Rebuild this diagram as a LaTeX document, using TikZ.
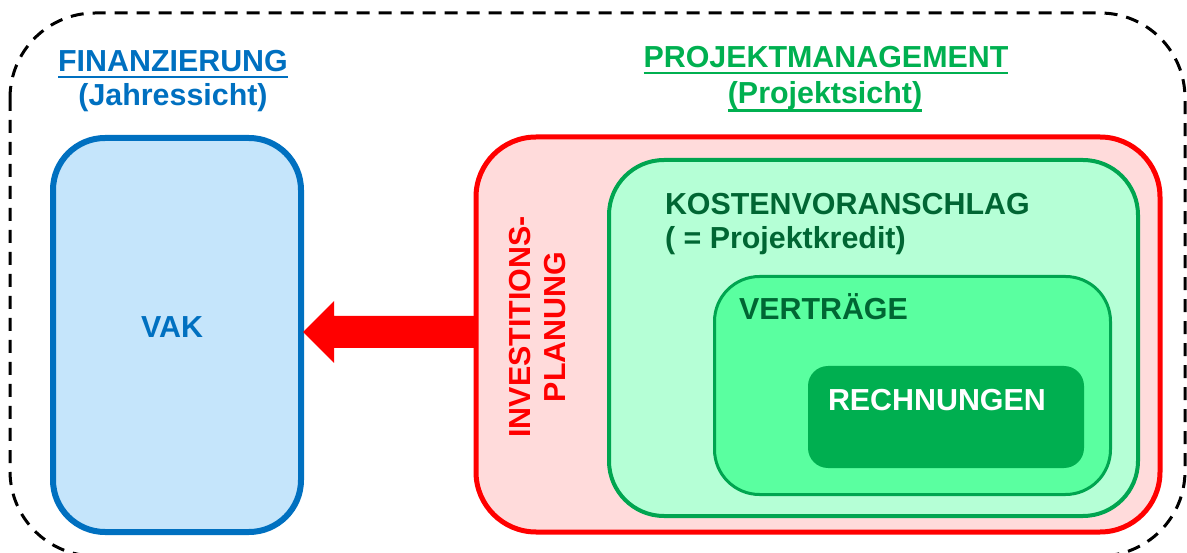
\documentclass[tikz,border=0pt]{standalone}
\usepackage{fontspec}
\setmainfont{Liberation Sans}
\usetikzlibrary{calc}
\definecolor{finblue}{HTML}{0070C0}
\definecolor{finfill}{HTML}{C5E5FB}
\definecolor{invred}{HTML}{FF0000}
\definecolor{invfill}{HTML}{FFDBDB}
\definecolor{pmgreen}{HTML}{00B050}
\definecolor{kvline}{HTML}{00A550}
\definecolor{kvfill}{HTML}{B5FFD6}
\definecolor{vtfill}{HTML}{5AFFA0}
\definecolor{refill}{HTML}{00AF50}
\definecolor{darkgreen}{HTML}{006633}
\tikzset{
  txt/.style={inner sep=0pt, outer sep=0pt, font=\fontsize{30.4}{35}\selectfont\bfseries},
  box/.style={rounded corners=#1, inner sep=0pt, outer sep=0pt},
}
\begin{document}
\begin{tikzpicture}[x=1pt,y=-1pt]
\useasboundingbox (0,0) rectangle (1187,553);
\clip (0,0) rectangle (1187,553);
% outer dashed frame
\draw[line width=3pt, dash pattern=on 13pt off 9pt, rounded corners=85pt] (10,13) rectangle (1185,556);
% boxes
\node[box=52pt, draw=finblue, fill=finfill, line width=6pt, minimum width=248pt, minimum height=394pt] (vak) at (177,335) {};
\node[box=60pt, draw=invred, fill=invfill, line width=5pt, minimum width=684pt, minimum height=395pt] (inv) at (818,334.5) {};
\node[box=55pt, draw=kvline, fill=kvfill, line width=4pt, minimum width=529pt, minimum height=356pt] (kv) at (873.5,338) {};
\node[box=45pt, draw=kvline, fill=vtfill, line width=3pt, minimum width=396pt, minimum height=218pt] (vt) at (912.5,385.5) {};
\node[box=20pt, fill=refill, minimum width=276pt, minimum height=102pt] (re) at (946,417) {};
% arrow
\coordinate (tip) at (vak.east |- 0,332);
\coordinate (tail) at (inv.west |- tip);
\fill[invred] ($(tip)+(2,0)$) -- ($(tip)+(33,-31)$) -- ($(tip)+(33,-16)$) -- ($(tail)+(0,-16)$)
  -- ($(tail)+(0,16)$) -- ($(tip)+(33,16)$) -- ($(tip)+(33,31)$) -- cycle;
% titles
\node[txt, text=finblue, anchor=base] (fin) at (173,72) {FINANZIERUNG};
\draw[finblue, line width=2.5pt] ($(fin.base west)+(0,5)$) -- ($(fin.base east)+(0,5)$);
\node[txt, text=finblue, anchor=base] (jahr) at (173,106) {(Jahressicht)};
\node[txt, text=pmgreen, anchor=base] (pm) at (826,68) {PROJEKTMANAGEMENT};
\draw[pmgreen, line width=2.5pt] ($(pm.base west)+(0,5)$) -- ($(pm.base east)+(0,5)$);
\node[txt, text=pmgreen, anchor=base] (ps) at (825,104) {(Projektsicht)};
\draw[pmgreen, line width=2.5pt] ($(ps.base west)+(0,6.5)$) -- ($(ps.base east)+(0,6.5)$);
% inner texts
\node[txt, text=finblue, anchor=base] (vaktext) at (172,338) {VAK};
\node[txt, text=invred, rotate=90, align=center] (invtext) at (537.5,327) {INVESTITIONS-\\PLANUNG};
\node[txt, text=darkgreen, anchor=base west] (kvt1) at (665,215) {KOSTENVORANSCHLAG};
\node[txt, text=darkgreen, anchor=base west] (kvt2) at (665,249) {( = Projektkredit)};
\node[txt, text=darkgreen, anchor=base west] (vtt) at (739,320) {VERTRÄGE};
\node[txt, text=white, anchor=base west] (ret) at (828,411) {RECHNUNGEN};
\end{tikzpicture}
\end{document}
